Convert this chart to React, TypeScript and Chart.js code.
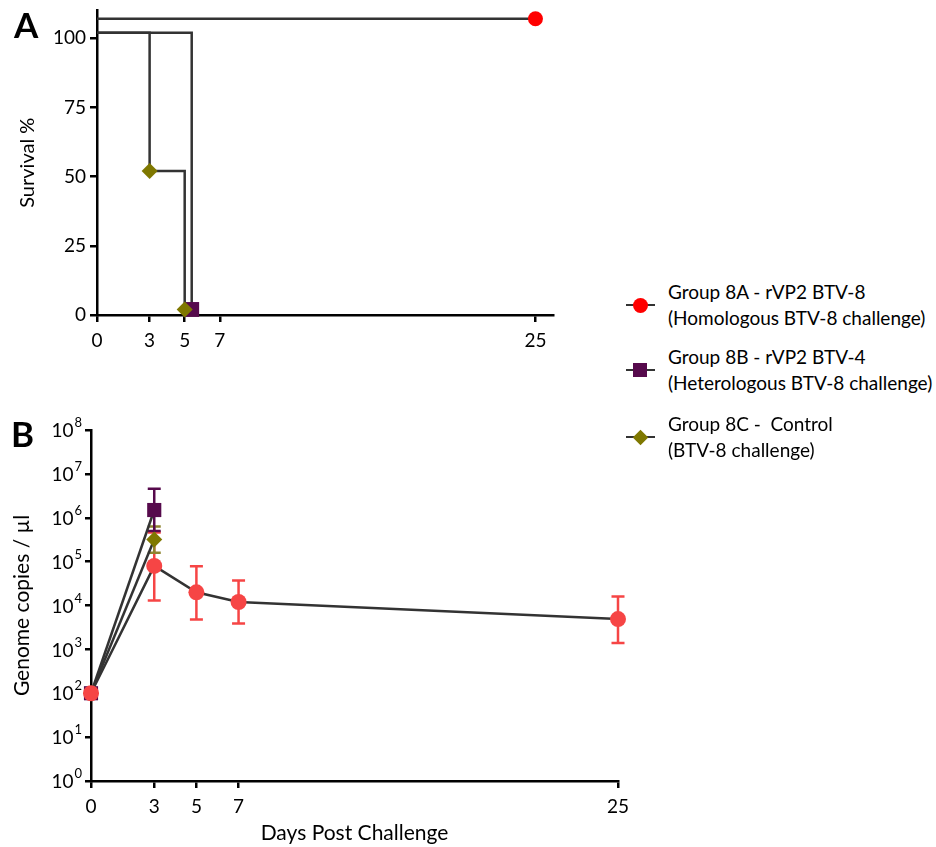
import React, { useEffect, useRef } from 'react';
import { Chart, registerables } from 'chart.js';

Chart.register(...registerables);

const FONT = 'Lato, "Open Sans", "DejaVu Sans", sans-serif';
const LINE = '#333333';
const RED_A = '#ff0000';
const RED_B = '#f64545';
const PURPLE = '#560a4c';
const OLIVE = '#7f7800';

// ---------- Panel A: survival ----------
const survivalTicksX = [0, 3, 5, 7, 25];
const survivalTicksY = [0, 25, 50, 75, 100];
const surv8ADays = [0, 25];
const surv8AValues = [107, 107];
const surv8BDays = [0, 5.4];
const surv8BValues = [102, 2];
const surv8CDays = [0, 3, 5];
const surv8CValues = [102, 52, 2];

// ---------- Panel B: genome copies ----------
const daysTicksB = [0, 3, 5, 7, 25];
const logTicksB = [1, 10, 100, 1e3, 1e4, 1e5, 1e6, 1e7, 1e8];
const copies8ADays = [0, 3, 5, 7, 25];
const copies8A = [100, 8e4, 2e4, 1.2e4, 4.9e3];
const copies8ALow = [100, 1.3e4, 4.8e3, 3.9e3, 1.4e3];
const copies8AHigh = [100, 4.6e5, 7.8e4, 3.7e4, 1.6e4];
const copies8BCDays = [0, 3];
const copies8B = [100, 1.5e6];
const copies8BLow = [100, 5e5];
const copies8BHigh = [100, 4.6e6];
const copies8C = [100, 3.2e5];
const copies8CLow = [100, 1.6e5];
const copies8CHigh = [100, 6.3e5];

const legendItems = [
  { line1: 'Group 8A - rVP2 BTV-8', line2: '(Homologous BTV-8 challenge)', color: RED_A, shape: 'circle', cy: 305 },
  { line1: 'Group 8B - rVP2 BTV-4', line2: '(Heterologous BTV-8 challenge)', color: PURPLE, shape: 'square', cy: 370 },
  { line1: 'Group 8C -  Control', line2: '(BTV-8 challenge)', color: OLIVE, shape: 'diamond', cy: 437 },
];

const TICK_SIZE = 19;
const TITLE_SIZE = 20;

const panelLetterPlugin = {
  id: 'panelLetter',
  afterDraw(chart: any, _args: any, opts: any) {
    const ctx = chart.ctx;
    ctx.save();
    ctx.font = `bold ${opts.size}px ${FONT}`;
    ctx.fillStyle = '#000';
    ctx.textBaseline = 'alphabetic';
    ctx.textAlign = 'left';
    ctx.fillText(opts.text, opts.x, opts.y);
    ctx.restore();
  },
};

// Draws "10" with a raised exponent for every tick of the log axis.
const powerLabelPlugin = {
  id: 'powerLabels',
  afterDraw(chart: any, _args: any, opts: any) {
    const ctx = chart.ctx;
    const ys = chart.scales.y;
    const xRight = chart.chartArea.left - opts.offset;
    ctx.save();
    ctx.fillStyle = '#000';
    ys.ticks.forEach((t: any) => {
      const y = ys.getPixelForValue(t.value);
      const exp = String(Math.round(Math.log10(t.value)));
      ctx.font = `${opts.expSize}px ${FONT}`;
      ctx.textAlign = 'right';
      ctx.textBaseline = 'middle';
      const ew = ctx.measureText(exp).width;
      ctx.fillText(exp, xRight, y - 7);
      ctx.font = `${opts.size}px ${FONT}`;
      ctx.fillText('10', xRight - ew - 1, y + 1);
    });
    ctx.restore();
  },
};

const errorBarPlugin = {
  id: 'errorBars',
  beforeDatasetsDraw(chart: any) {
    const ctx = chart.ctx;
    const ys = chart.scales.y;
    chart.data.datasets.forEach((ds: any, i: number) => {
      if (!ds.errLow) return;
      const meta = chart.getDatasetMeta(i);
      ctx.save();
      ctx.strokeStyle = ds.errColor;
      ctx.lineWidth = 2.5;
      meta.data.forEach((pt: any, j: number) => {
        const lo = ys.getPixelForValue(ds.errLow[j]);
        const hi = ys.getPixelForValue(ds.errHigh[j]);
        if (Math.abs(lo - hi) < 1) return;
        const w = 6.5;
        ctx.beginPath();
        ctx.moveTo(pt.x, lo);
        ctx.lineTo(pt.x, hi);
        ctx.moveTo(pt.x - w, lo);
        ctx.lineTo(pt.x + w, lo);
        ctx.moveTo(pt.x - w, hi);
        ctx.lineTo(pt.x + w, hi);
        ctx.stroke();
      });
      ctx.restore();
    });
  },
};

const zeroPad = (s: any) => {
  s.paddingTop = 0;
  s.paddingBottom = 0;
  s.paddingLeft = 0;
  s.paddingRight = 0;
};

const axisCommon = (tickLength: number) => ({
  border: { display: true, color: '#000', width: 2.5 },
  grid: { drawOnChartArea: false, drawTicks: true, tickLength, color: '#000', lineWidth: 2.5 },
});

function ChartA() {
  const ref = useRef<HTMLCanvasElement>(null);
  useEffect(() => {
    const pts = (xs: number[], ys: number[]) => xs.map((x, i) => ({ x, y: ys[i] }));
    const chart = new Chart(ref.current as HTMLCanvasElement, {
      type: 'line',
      data: {
        datasets: [
          {
            label: 'Group 8A',
            data: pts(surv8ADays, surv8AValues),
            stepped: true,
            borderColor: LINE,
            borderWidth: 2.5,
            pointRadius: [0, 7.5],
            pointStyle: 'circle',
            pointBackgroundColor: RED_A,
            pointBorderColor: RED_A,
            pointBorderWidth: 0,
            clip: false,
          },
          {
            label: 'Group 8C',
            data: pts(surv8CDays, surv8CValues),
            stepped: true,
            borderColor: LINE,
            borderWidth: 2.5,
            pointRadius: [0, 8, 8],
            pointStyle: 'rectRot',
            pointBackgroundColor: OLIVE,
            pointBorderColor: OLIVE,
            pointBorderWidth: 0,
            clip: false,
          },
          {
            label: 'Group 8B',
            data: pts(surv8BDays, surv8BValues),
            stepped: true,
            borderColor: LINE,
            borderWidth: 2.5,
            pointRadius: [0, 10.5],
            pointStyle: 'rect',
            pointBackgroundColor: PURPLE,
            pointBorderColor: PURPLE,
            pointBorderWidth: 0,
            clip: false,
          },
        ] as any,
      },
      options: {
        animation: false,
        responsive: false,
        events: [],
        layout: { padding: { top: 10, right: 17, left: 0, bottom: 0 } },
        plugins: {
          legend: { display: false },
          tooltip: { enabled: false },
          panelLetter: { text: 'A', x: 14, y: 38, size: 35 },
        } as any,
        scales: {
          x: {
            type: 'linear',
            min: 0,
            max: 26,
            afterBuildTicks: (s: any) => {
              s.ticks = survivalTicksX.map((v) => ({ value: v }));
            },
            afterFit: (s: any) => {
              s.height = 45;
              zeroPad(s);
            },
            ...axisCommon(7),
            ticks: { color: '#000', font: { family: FONT, size: TICK_SIZE }, padding: 7, maxRotation: 0, autoSkip: false },
          },
          y: {
            type: 'linear',
            min: 0,
            max: 110,
            afterBuildTicks: (s: any) => {
              s.ticks = survivalTicksY.map((v) => ({ value: v }));
            },
            afterFit: (s: any) => {
              s.width = 97;
              zeroPad(s);
            },
            ...axisCommon(7),
            ticks: { color: '#000', font: { family: FONT, size: TICK_SIZE }, padding: 4, autoSkip: false },
            title: {
              display: true,
              text: 'Survival %',
              color: '#000',
              font: { family: FONT, size: TITLE_SIZE },
              padding: { top: 16, bottom: 0 },
            },
          },
        } as any,
      },
      plugins: [panelLetterPlugin],
    });
    return () => chart.destroy();
  }, []);
  return <canvas ref={ref} width={570} height={360} style={{ position: 'absolute', left: 0, top: 0 }} />;
}

function ChartB() {
  const ref = useRef<HTMLCanvasElement>(null);
  useEffect(() => {
    const pts = (xs: number[], ys: number[]) => xs.map((x, i) => ({ x, y: ys[i] }));
    const chart = new Chart(ref.current as HTMLCanvasElement, {
      type: 'line',
      data: {
        datasets: [
          {
            label: 'Group 8A',
            data: pts(copies8ADays, copies8A),
            errLow: copies8ALow,
            errHigh: copies8AHigh,
            errColor: RED_B,
            borderColor: LINE,
            borderWidth: 2.5,
            pointRadius: 8,
            pointStyle: 'circle',
            pointBackgroundColor: RED_B,
            pointBorderColor: RED_B,
            pointBorderWidth: 0,
            clip: false,
          },
          {
            label: 'Group 8C',
            data: pts(copies8BCDays, copies8C),
            errLow: copies8CLow,
            errHigh: copies8CHigh,
            errColor: '#8f8530',
            borderColor: LINE,
            borderWidth: 2.5,
            pointRadius: 8,
            pointStyle: 'rectRot',
            pointBackgroundColor: OLIVE,
            pointBorderColor: OLIVE,
            pointBorderWidth: 0,
            clip: false,
          },
          {
            label: 'Group 8B',
            data: pts(copies8BCDays, copies8B),
            errLow: copies8BLow,
            errHigh: copies8BHigh,
            errColor: PURPLE,
            borderColor: LINE,
            borderWidth: 2.5,
            pointRadius: 10,
            pointStyle: 'rect',
            pointBackgroundColor: PURPLE,
            pointBorderColor: PURPLE,
            pointBorderWidth: 0,
            clip: false,
          },
        ] as any,
      },
      options: {
        animation: false,
        responsive: false,
        events: [],
        layout: { padding: { top: 30, right: 22, left: 0, bottom: 0 } },
        plugins: {
          legend: { display: false },
          tooltip: { enabled: false },
          panelLetter: { text: 'B', x: 11, y: 47, size: 35 },
          powerLabels: { offset: 9, size: TICK_SIZE, expSize: 13 },
        } as any,
        scales: {
          x: {
            type: 'linear',
            min: 0,
            max: 25,
            afterBuildTicks: (s: any) => {
              s.ticks = daysTicksB.map((v) => ({ value: v }));
            },
            afterFit: (s: any) => {
              s.height = 66;
              zeroPad(s);
            },
            ...axisCommon(7),
            ticks: { color: '#000', font: { family: FONT, size: TICK_SIZE }, padding: 7, maxRotation: 0, autoSkip: false },
            title: {
              display: true,
              text: 'Days Post Challenge',
              color: '#000',
              font: { family: FONT, size: TITLE_SIZE + 1 },
              padding: { top: 0, bottom: 1 },
            },
          },
          y: {
            type: 'logarithmic',
            min: 1,
            max: 1e8,
            afterBuildTicks: (s: any) => {
              s.ticks = logTicksB.map((v) => ({ value: v }));
            },
            afterFit: (s: any) => {
              s.width = 91;
              zeroPad(s);
            },
            ...axisCommon(6),
            ticks: { display: false, autoSkip: false },
            title: {
              display: true,
              text: 'Genome copies / µl',
              color: '#000',
              font: { family: FONT, size: TITLE_SIZE + 1 },
              padding: { top: 10, bottom: 0 },
            },
          },
        } as any,
      },
      plugins: [errorBarPlugin, panelLetterPlugin, powerLabelPlugin],
    });
    return () => chart.destroy();
  }, []);
  return <canvas ref={ref} width={640} height={447} style={{ position: 'absolute', left: 0, top: 400 }} />;
}

function Legend() {
  return (
    <>
      {legendItems.map((it) => {
        let marker: React.CSSProperties;
        if (it.shape === 'circle') {
          marker = { width: 15, height: 15, borderRadius: '50%', left: 640 - 7.5, top: it.cy - 7.5 };
        } else if (it.shape === 'square') {
          marker = { width: 14, height: 14, left: 640 - 7, top: it.cy - 7 };
        } else {
          marker = { width: 11, height: 11, left: 640 - 5.5, top: it.cy - 5.5, transform: 'rotate(45deg)' };
        }
        return (
          <React.Fragment key={it.line1}>
            <div style={{ position: 'absolute', left: 626, top: it.cy - 1.25, width: 29, height: 2.5, background: LINE }} />
            <div style={{ position: 'absolute', background: it.color, ...marker }} />
            <div
              style={{
                position: 'absolute',
                left: 668,
                top: it.cy - 26,
                fontFamily: FONT,
                fontSize: 19,
                lineHeight: '26px',
                color: '#000',
                whiteSpace: 'pre',
              }}
            >
              {it.line1}
              {'\n'}
              {it.line2}
            </div>
          </React.Fragment>
        );
      })}
    </>
  );
}

export default function App() {
  return (
    <div style={{ position: 'absolute', left: 0, top: 0, width: 936, height: 847, background: '#fff', overflow: 'hidden' }}>
      <ChartA />
      <ChartB />
      <Legend />
    </div>
  );
}
